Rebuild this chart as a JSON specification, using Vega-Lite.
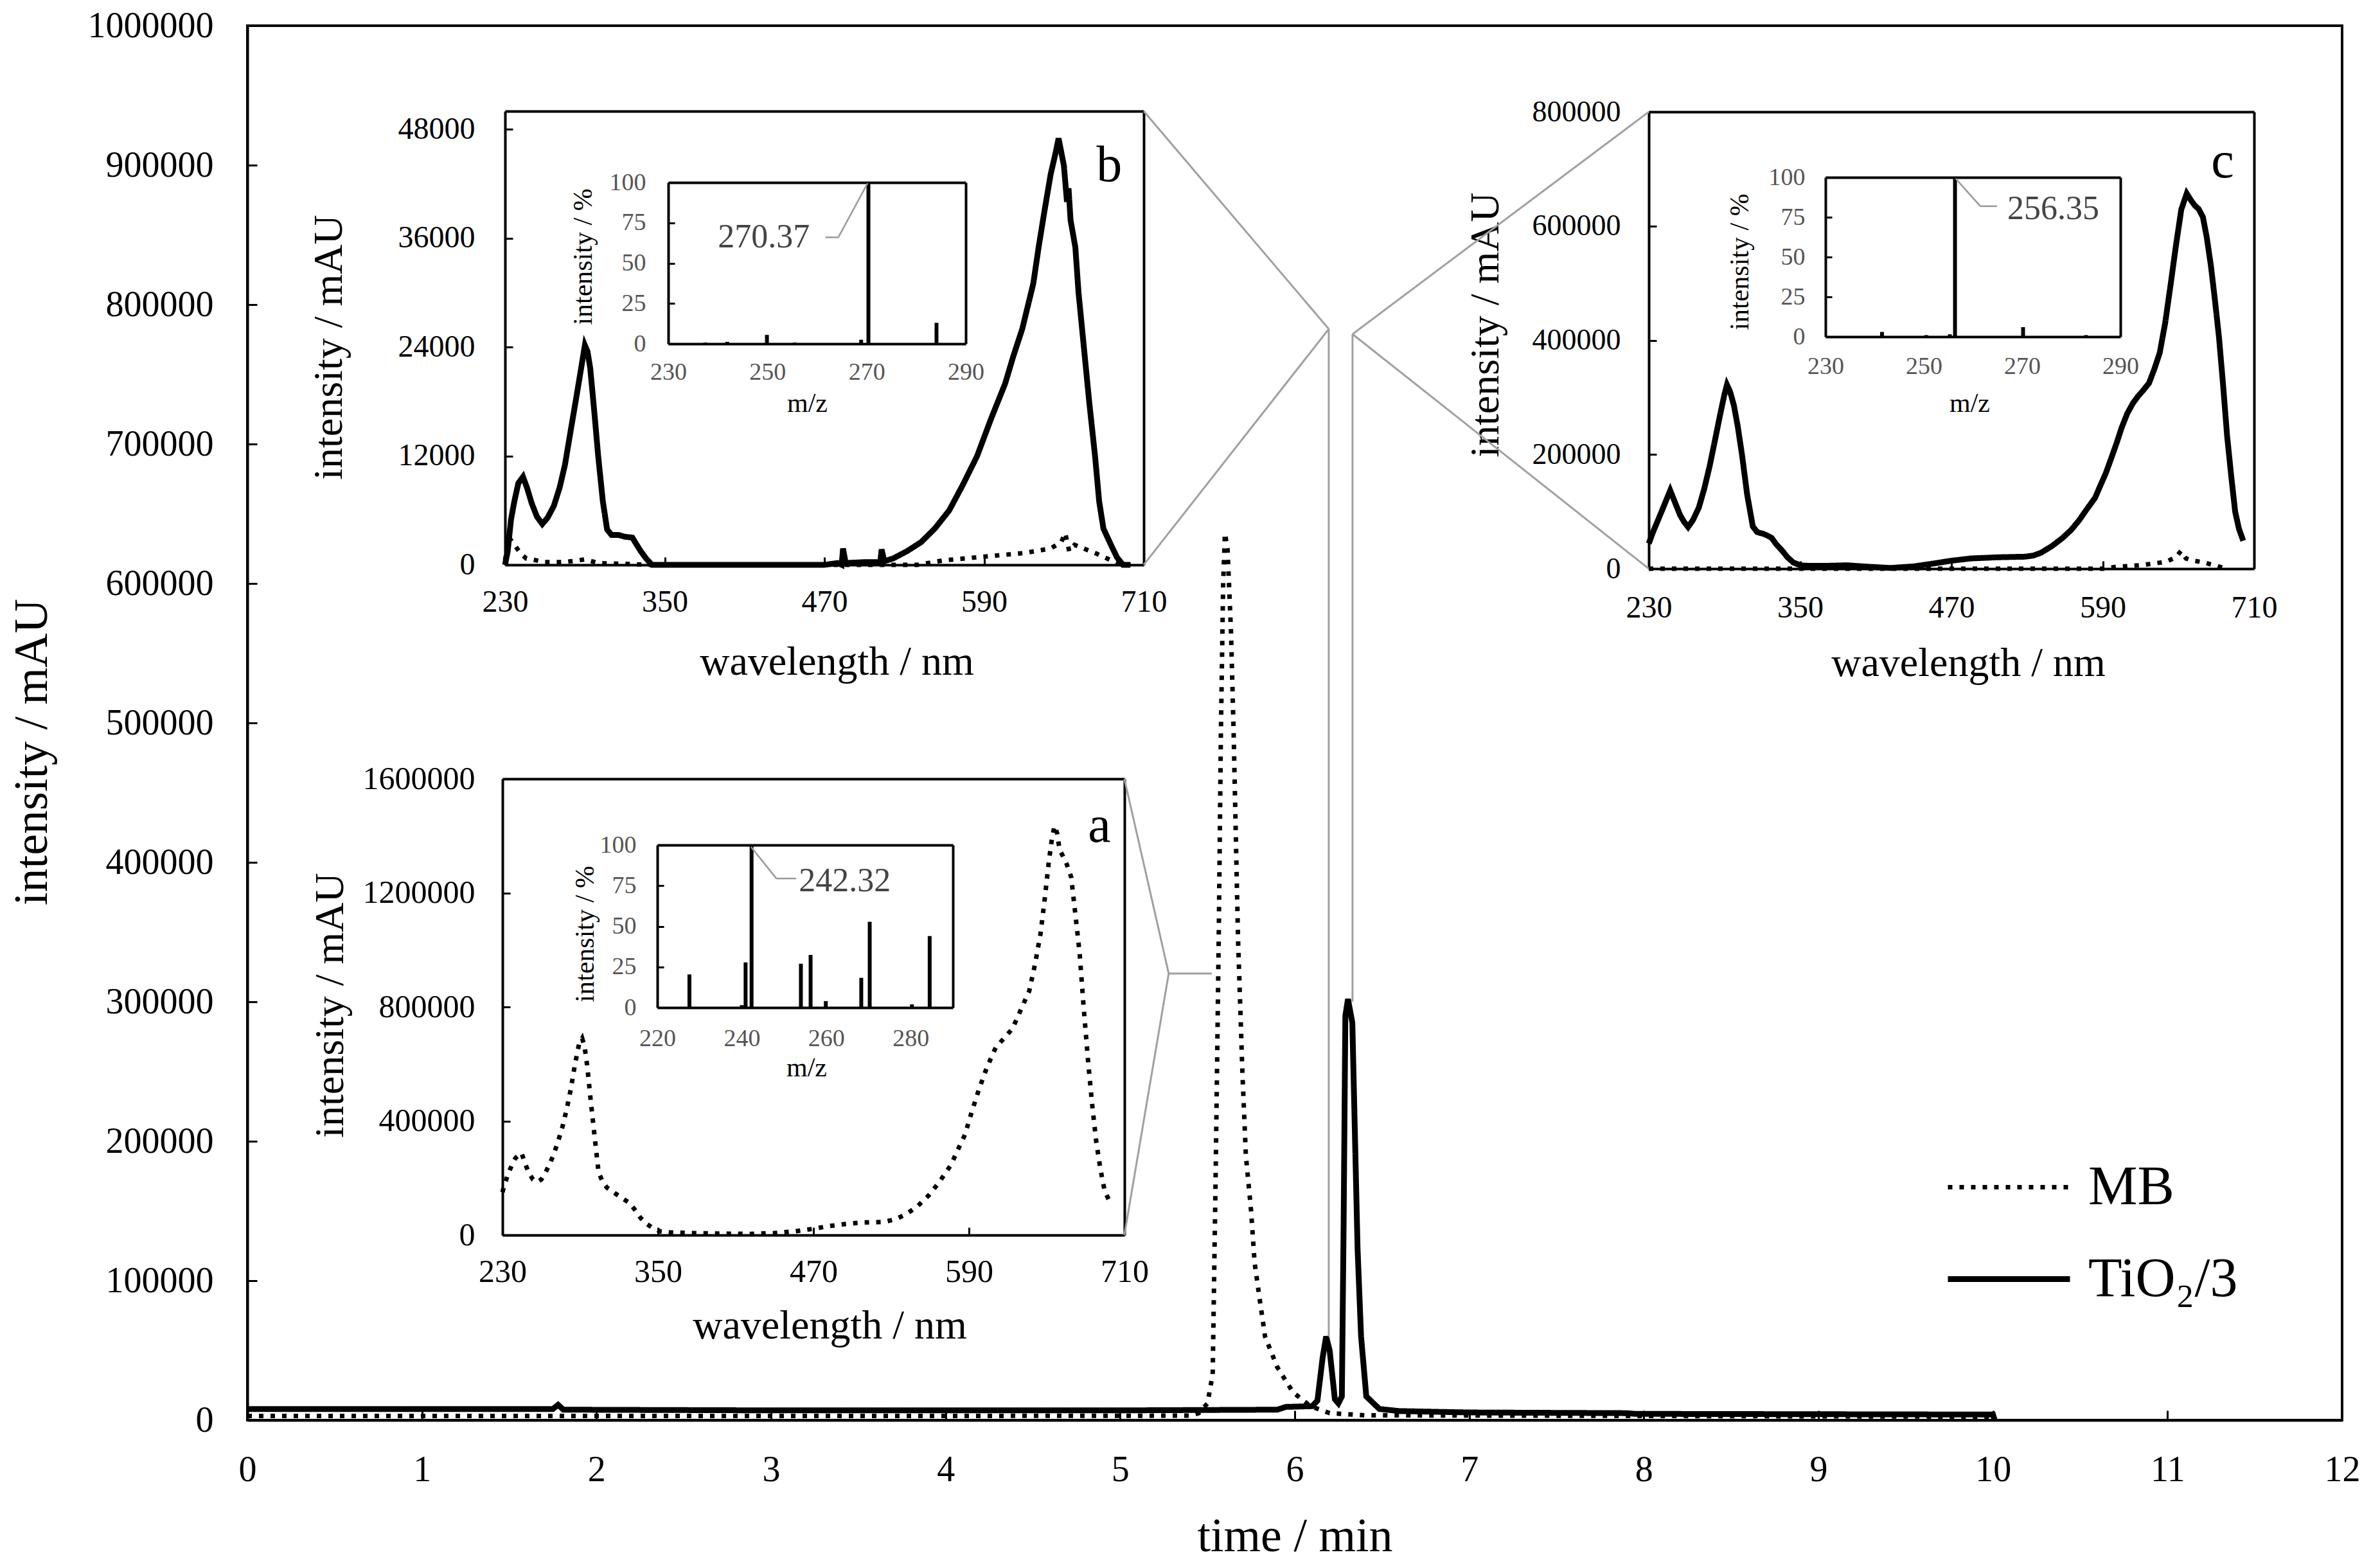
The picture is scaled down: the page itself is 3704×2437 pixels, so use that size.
{
  "$schema": "https://vega.github.io/schema/vega-lite/v6.json",
  "width": 3260,
  "height": 2170,
  "autosize": {"type": "none"},
  "padding": {"left": 385, "top": 40, "right": 59, "bottom": 227},
  "background": "white",
  "config": {
    "font": "Liberation Serif",
    "view": {"stroke": "black", "strokeWidth": 4},
    "axis": {
      "grid": false,
      "domainColor": "black",
      "domainWidth": 4,
      "tickColor": "black",
      "tickWidth": 3,
      "labelColor": "black",
      "titleColor": "black",
      "titleFontWeight": "normal",
      "labelFont": "Liberation Serif",
      "titleFont": "Liberation Serif",
      "labelOverlap": false,
      "labelFlush": false,
      "labelBound": false,
      "labelLimit": 0,
      "format": "d"
    },
    "text": {"font": "Liberation Serif"}
  },
  "datasets": {
    "chrom": [
      {"t": 0, "I": 3000, "series": "MB"},
      {"t": 2, "I": 3000, "series": "MB"},
      {"t": 4, "I": 3000, "series": "MB"},
      {"t": 5.4, "I": 3200, "series": "MB"},
      {"t": 5.45, "I": 5000, "series": "MB"},
      {"t": 5.5, "I": 12000, "series": "MB"},
      {"t": 5.53, "I": 33000, "series": "MB"},
      {"t": 5.547, "I": 176000, "series": "MB"},
      {"t": 5.565, "I": 350000, "series": "MB"},
      {"t": 5.577, "I": 493000, "series": "MB"},
      {"t": 5.59, "I": 600000, "series": "MB"},
      {"t": 5.6, "I": 636000, "series": "MB"},
      {"t": 5.615, "I": 625000, "series": "MB"},
      {"t": 5.635, "I": 565000, "series": "MB"},
      {"t": 5.65, "I": 493000, "series": "MB"},
      {"t": 5.675, "I": 346000, "series": "MB"},
      {"t": 5.7, "I": 250000, "series": "MB"},
      {"t": 5.72, "I": 190000, "series": "MB"},
      {"t": 5.75, "I": 150000, "series": "MB"},
      {"t": 5.77, "I": 113000, "series": "MB"},
      {"t": 5.8, "I": 86000, "series": "MB"},
      {"t": 5.83, "I": 60000, "series": "MB"},
      {"t": 5.9, "I": 38000, "series": "MB"},
      {"t": 5.99, "I": 20000, "series": "MB"},
      {"t": 6.09, "I": 10000, "series": "MB"},
      {"t": 6.2, "I": 5000, "series": "MB"},
      {"t": 6.4, "I": 3500, "series": "MB"},
      {"t": 8, "I": 3000, "series": "MB"},
      {"t": 10, "I": 2500, "series": "MB"},
      {"t": 0, "I": 8000, "series": "TiO₂/3"},
      {"t": 1.75, "I": 8000, "series": "TiO₂/3"},
      {"t": 1.78, "I": 11000, "series": "TiO₂/3"},
      {"t": 1.81, "I": 7500, "series": "TiO₂/3"},
      {"t": 3, "I": 7000, "series": "TiO₂/3"},
      {"t": 5, "I": 7000, "series": "TiO₂/3"},
      {"t": 5.9, "I": 7500, "series": "TiO₂/3"},
      {"t": 5.95, "I": 9500, "series": "TiO₂/3"},
      {"t": 6.1, "I": 10000, "series": "TiO₂/3"},
      {"t": 6.13, "I": 14000, "series": "TiO₂/3"},
      {"t": 6.16, "I": 45000, "series": "TiO₂/3"},
      {"t": 6.18, "I": 60000, "series": "TiO₂/3"},
      {"t": 6.2, "I": 50000, "series": "TiO₂/3"},
      {"t": 6.23, "I": 15000, "series": "TiO₂/3"},
      {"t": 6.25, "I": 12000, "series": "TiO₂/3"},
      {"t": 6.27, "I": 17000, "series": "TiO₂/3"},
      {"t": 6.28, "I": 139000, "series": "TiO₂/3"},
      {"t": 6.29, "I": 290000, "series": "TiO₂/3"},
      {"t": 6.305, "I": 302000, "series": "TiO₂/3"},
      {"t": 6.33, "I": 285000, "series": "TiO₂/3"},
      {"t": 6.36, "I": 123000, "series": "TiO₂/3"},
      {"t": 6.38, "I": 60000, "series": "TiO₂/3"},
      {"t": 6.41, "I": 17000, "series": "TiO₂/3"},
      {"t": 6.485, "I": 8000, "series": "TiO₂/3"},
      {"t": 6.6, "I": 6500, "series": "TiO₂/3"},
      {"t": 7, "I": 5500, "series": "TiO₂/3"},
      {"t": 7.9, "I": 5000, "series": "TiO₂/3"},
      {"t": 7.95, "I": 4500, "series": "TiO₂/3"},
      {"t": 10, "I": 4000, "series": "TiO₂/3"},
      {"t": 10.01, "I": 0, "series": "TiO₂/3"}
    ],
    "connectors": [
      {"t": 5.135, "I": 938700, "t2": 6.195, "I2": 782500},
      {"t": 5.135, "I": 613400, "t2": 6.195, "I2": 782500},
      {"t": 6.195, "I": 782500, "t2": 6.195, "I2": 60000},
      {"t": 8.028, "I": 938200, "t2": 6.331, "I2": 778800},
      {"t": 8.028, "I": 610600, "t2": 6.331, "I2": 778800},
      {"t": 6.331, "I": 778800, "t2": 6.331, "I2": 300000},
      {"t": 5.024, "I": 459900, "t2": 5.278, "I2": 320300},
      {"t": 5.024, "I": 132700, "t2": 5.278, "I2": 320300},
      {"t": 5.278, "I": 320300, "t2": 5.525, "I2": 320300}
    ],
    "spec_a": [
      {"wl": 230, "I": 150000, "series": "MB"},
      {"wl": 230.9, "I": 166000, "series": "MB"},
      {"wl": 234, "I": 210000, "series": "MB"},
      {"wl": 237.3, "I": 246000, "series": "MB"},
      {"wl": 240, "I": 270000, "series": "MB"},
      {"wl": 244.7, "I": 288000, "series": "MB"},
      {"wl": 247.5, "I": 250000, "series": "MB"},
      {"wl": 250.3, "I": 219000, "series": "MB"},
      {"wl": 253.5, "I": 195000, "series": "MB"},
      {"wl": 256.8, "I": 186000, "series": "MB"},
      {"wl": 260, "I": 195000, "series": "MB"},
      {"wl": 263.2, "I": 219000, "series": "MB"},
      {"wl": 266.5, "I": 250000, "series": "MB"},
      {"wl": 269.7, "I": 285000, "series": "MB"},
      {"wl": 273, "I": 330000, "series": "MB"},
      {"wl": 276.2, "I": 378000, "series": "MB"},
      {"wl": 279.5, "I": 440000, "series": "MB"},
      {"wl": 282.7, "I": 511000, "series": "MB"},
      {"wl": 286, "I": 600000, "series": "MB"},
      {"wl": 289.1, "I": 670000, "series": "MB"},
      {"wl": 291.5, "I": 690000, "series": "MB"},
      {"wl": 293.4, "I": 660000, "series": "MB"},
      {"wl": 295.5, "I": 590000, "series": "MB"},
      {"wl": 297.8, "I": 485000, "series": "MB"},
      {"wl": 301, "I": 350000, "series": "MB"},
      {"wl": 304.2, "I": 219000, "series": "MB"},
      {"wl": 307.5, "I": 185000, "series": "MB"},
      {"wl": 310.7, "I": 166000, "series": "MB"},
      {"wl": 315, "I": 152000, "series": "MB"},
      {"wl": 319.3, "I": 139000, "series": "MB"},
      {"wl": 323.5, "I": 126000, "series": "MB"},
      {"wl": 328, "I": 113000, "series": "MB"},
      {"wl": 332, "I": 90000, "series": "MB"},
      {"wl": 336.6, "I": 60000, "series": "MB"},
      {"wl": 341, "I": 40000, "series": "MB"},
      {"wl": 345.2, "I": 27000, "series": "MB"},
      {"wl": 351.7, "I": 13000, "series": "MB"},
      {"wl": 360, "I": 9000, "series": "MB"},
      {"wl": 377.6, "I": 7000, "series": "MB"},
      {"wl": 400, "I": 5000, "series": "MB"},
      {"wl": 420.8, "I": 4000, "series": "MB"},
      {"wl": 440, "I": 7000, "series": "MB"},
      {"wl": 455.3, "I": 13000, "series": "MB"},
      {"wl": 470, "I": 22000, "series": "MB"},
      {"wl": 481.2, "I": 31000, "series": "MB"},
      {"wl": 495, "I": 39000, "series": "MB"},
      {"wl": 507.1, "I": 44000, "series": "MB"},
      {"wl": 524.4, "I": 46000, "series": "MB"},
      {"wl": 533, "I": 55000, "series": "MB"},
      {"wl": 541.6, "I": 73000, "series": "MB"},
      {"wl": 550, "I": 100000, "series": "MB"},
      {"wl": 558.9, "I": 139000, "series": "MB"},
      {"wl": 567, "I": 185000, "series": "MB"},
      {"wl": 576.1, "I": 246000, "series": "MB"},
      {"wl": 581, "I": 295000, "series": "MB"},
      {"wl": 586.9, "I": 352000, "series": "MB"},
      {"wl": 592, "I": 430000, "series": "MB"},
      {"wl": 597.7, "I": 511000, "series": "MB"},
      {"wl": 604, "I": 590000, "series": "MB"},
      {"wl": 610.6, "I": 657000, "series": "MB"},
      {"wl": 617, "I": 690000, "series": "MB"},
      {"wl": 623.6, "I": 724000, "series": "MB"},
      {"wl": 630, "I": 790000, "series": "MB"},
      {"wl": 636.5, "I": 856000, "series": "MB"},
      {"wl": 641, "I": 950000, "series": "MB"},
      {"wl": 645.2, "I": 1056000, "series": "MB"},
      {"wl": 648.5, "I": 1180000, "series": "MB"},
      {"wl": 651.6, "I": 1308000, "series": "MB"},
      {"wl": 654, "I": 1390000, "series": "MB"},
      {"wl": 656, "I": 1435000, "series": "MB"},
      {"wl": 658, "I": 1410000, "series": "MB"},
      {"wl": 660, "I": 1350000, "series": "MB"},
      {"wl": 662.4, "I": 1330000, "series": "MB"},
      {"wl": 665.5, "I": 1300000, "series": "MB"},
      {"wl": 668.9, "I": 1255000, "series": "MB"},
      {"wl": 672, "I": 1130000, "series": "MB"},
      {"wl": 675.4, "I": 989000, "series": "MB"},
      {"wl": 678.5, "I": 800000, "series": "MB"},
      {"wl": 681.8, "I": 617000, "series": "MB"},
      {"wl": 685, "I": 460000, "series": "MB"},
      {"wl": 688.3, "I": 325000, "series": "MB"},
      {"wl": 691.5, "I": 230000, "series": "MB"},
      {"wl": 694.8, "I": 153000, "series": "MB"},
      {"wl": 699.1, "I": 113000, "series": "MB"}
    ],
    "spec_b": [
      {"wl": 230, "I": 0, "series": "TiO₂/3"},
      {"wl": 232, "I": 1500, "series": "TiO₂/3"},
      {"wl": 234.5, "I": 5000, "series": "TiO₂/3"},
      {"wl": 237, "I": 7000, "series": "TiO₂/3"},
      {"wl": 240, "I": 9000, "series": "TiO₂/3"},
      {"wl": 243.5, "I": 9700, "series": "TiO₂/3"},
      {"wl": 246.5, "I": 8500, "series": "TiO₂/3"},
      {"wl": 250, "I": 6800, "series": "TiO₂/3"},
      {"wl": 254, "I": 5300, "series": "TiO₂/3"},
      {"wl": 258, "I": 4500, "series": "TiO₂/3"},
      {"wl": 262, "I": 5200, "series": "TiO₂/3"},
      {"wl": 266.7, "I": 6500, "series": "TiO₂/3"},
      {"wl": 271, "I": 8500, "series": "TiO₂/3"},
      {"wl": 275, "I": 11000, "series": "TiO₂/3"},
      {"wl": 279, "I": 14500, "series": "TiO₂/3"},
      {"wl": 283.5, "I": 18400, "series": "TiO₂/3"},
      {"wl": 287, "I": 21500, "series": "TiO₂/3"},
      {"wl": 290, "I": 24200, "series": "TiO₂/3"},
      {"wl": 292, "I": 23500, "series": "TiO₂/3"},
      {"wl": 294, "I": 21700, "series": "TiO₂/3"},
      {"wl": 297, "I": 17000, "series": "TiO₂/3"},
      {"wl": 300, "I": 12000, "series": "TiO₂/3"},
      {"wl": 303.5, "I": 7000, "series": "TiO₂/3"},
      {"wl": 306.7, "I": 3900, "series": "TiO₂/3"},
      {"wl": 310, "I": 3300, "series": "TiO₂/3"},
      {"wl": 315, "I": 3300, "series": "TiO₂/3"},
      {"wl": 320, "I": 3100, "series": "TiO₂/3"},
      {"wl": 325.7, "I": 3000, "series": "TiO₂/3"},
      {"wl": 329, "I": 2200, "series": "TiO₂/3"},
      {"wl": 332, "I": 1500, "series": "TiO₂/3"},
      {"wl": 336, "I": 700, "series": "TiO₂/3"},
      {"wl": 340.4, "I": 0, "series": "TiO₂/3"},
      {"wl": 400, "I": 0, "series": "TiO₂/3"},
      {"wl": 470, "I": 0, "series": "TiO₂/3"},
      {"wl": 480, "I": 200, "series": "TiO₂/3"},
      {"wl": 483, "I": 0, "series": "TiO₂/3"},
      {"wl": 484, "I": 1800, "series": "TiO₂/3"},
      {"wl": 486, "I": 200, "series": "TiO₂/3"},
      {"wl": 500, "I": 300, "series": "TiO₂/3"},
      {"wl": 512, "I": 300, "series": "TiO₂/3"},
      {"wl": 513, "I": 1700, "series": "TiO₂/3"},
      {"wl": 515, "I": 400, "series": "TiO₂/3"},
      {"wl": 521.6, "I": 700, "series": "TiO₂/3"},
      {"wl": 532, "I": 1500, "series": "TiO₂/3"},
      {"wl": 542.7, "I": 2500, "series": "TiO₂/3"},
      {"wl": 553, "I": 4000, "series": "TiO₂/3"},
      {"wl": 563.8, "I": 6000, "series": "TiO₂/3"},
      {"wl": 574, "I": 8800, "series": "TiO₂/3"},
      {"wl": 584.8, "I": 12000, "series": "TiO₂/3"},
      {"wl": 595, "I": 16000, "series": "TiO₂/3"},
      {"wl": 605.9, "I": 20000, "series": "TiO₂/3"},
      {"wl": 612, "I": 23000, "series": "TiO₂/3"},
      {"wl": 618.7, "I": 26000, "series": "TiO₂/3"},
      {"wl": 627, "I": 31000, "series": "TiO₂/3"},
      {"wl": 631, "I": 35000, "series": "TiO₂/3"},
      {"wl": 635.4, "I": 39000, "series": "TiO₂/3"},
      {"wl": 640, "I": 43000, "series": "TiO₂/3"},
      {"wl": 643.9, "I": 45500, "series": "TiO₂/3"},
      {"wl": 646, "I": 47000, "series": "TiO₂/3"},
      {"wl": 648, "I": 45500, "series": "TiO₂/3"},
      {"wl": 650, "I": 44000, "series": "TiO₂/3"},
      {"wl": 652.3, "I": 40000, "series": "TiO₂/3"},
      {"wl": 653.5, "I": 41500, "series": "TiO₂/3"},
      {"wl": 655, "I": 38000, "series": "TiO₂/3"},
      {"wl": 658.6, "I": 35000, "series": "TiO₂/3"},
      {"wl": 661, "I": 30000, "series": "TiO₂/3"},
      {"wl": 665, "I": 24000, "series": "TiO₂/3"},
      {"wl": 669, "I": 18000, "series": "TiO₂/3"},
      {"wl": 673.4, "I": 12000, "series": "TiO₂/3"},
      {"wl": 676.5, "I": 7000, "series": "TiO₂/3"},
      {"wl": 679.7, "I": 4000, "series": "TiO₂/3"},
      {"wl": 686, "I": 2000, "series": "TiO₂/3"},
      {"wl": 690, "I": 800, "series": "TiO₂/3"},
      {"wl": 694.4, "I": 0, "series": "TiO₂/3"},
      {"wl": 700, "I": 0, "series": "TiO₂/3"},
      {"wl": 230, "I": 500, "series": "MB"},
      {"wl": 233, "I": 3000, "series": "MB"},
      {"wl": 237, "I": 2200, "series": "MB"},
      {"wl": 242, "I": 1200, "series": "MB"},
      {"wl": 246, "I": 700, "series": "MB"},
      {"wl": 250, "I": 600, "series": "MB"},
      {"wl": 260, "I": 300, "series": "MB"},
      {"wl": 275, "I": 300, "series": "MB"},
      {"wl": 290, "I": 600, "series": "MB"},
      {"wl": 300, "I": 200, "series": "MB"},
      {"wl": 340, "I": 0, "series": "MB"},
      {"wl": 450, "I": 0, "series": "MB"},
      {"wl": 540, "I": 0, "series": "MB"},
      {"wl": 560, "I": 500, "series": "MB"},
      {"wl": 590, "I": 900, "series": "MB"},
      {"wl": 620, "I": 1300, "series": "MB"},
      {"wl": 640, "I": 1800, "series": "MB"},
      {"wl": 648, "I": 2500, "series": "MB"},
      {"wl": 651, "I": 3500, "series": "MB"},
      {"wl": 654, "I": 1500, "series": "MB"},
      {"wl": 658, "I": 2200, "series": "MB"},
      {"wl": 665, "I": 1800, "series": "MB"},
      {"wl": 675, "I": 1200, "series": "MB"},
      {"wl": 690, "I": 200, "series": "MB"},
      {"wl": 700, "I": 0, "series": "MB"}
    ],
    "spec_c": [
      {"wl": 230, "I": 44000, "series": "TiO₂/3"},
      {"wl": 233.5, "I": 65000, "series": "TiO₂/3"},
      {"wl": 237.7, "I": 87000, "series": "TiO₂/3"},
      {"wl": 242, "I": 110000, "series": "TiO₂/3"},
      {"wl": 247, "I": 137000, "series": "TiO₂/3"},
      {"wl": 251, "I": 115000, "series": "TiO₂/3"},
      {"wl": 254.8, "I": 94000, "series": "TiO₂/3"},
      {"wl": 258, "I": 82000, "series": "TiO₂/3"},
      {"wl": 261.2, "I": 73000, "series": "TiO₂/3"},
      {"wl": 265, "I": 85000, "series": "TiO₂/3"},
      {"wl": 269.7, "I": 107000, "series": "TiO₂/3"},
      {"wl": 274, "I": 140000, "series": "TiO₂/3"},
      {"wl": 278.3, "I": 180000, "series": "TiO₂/3"},
      {"wl": 282.5, "I": 225000, "series": "TiO₂/3"},
      {"wl": 286.8, "I": 272000, "series": "TiO₂/3"},
      {"wl": 290, "I": 305000, "series": "TiO₂/3"},
      {"wl": 292, "I": 322000, "series": "TiO₂/3"},
      {"wl": 294.5, "I": 310000, "series": "TiO₂/3"},
      {"wl": 297.5, "I": 286000, "series": "TiO₂/3"},
      {"wl": 300.5, "I": 250000, "series": "TiO₂/3"},
      {"wl": 303.9, "I": 200000, "series": "TiO₂/3"},
      {"wl": 308, "I": 130000, "series": "TiO₂/3"},
      {"wl": 312.5, "I": 74000, "series": "TiO₂/3"},
      {"wl": 316, "I": 64000, "series": "TiO₂/3"},
      {"wl": 321, "I": 61000, "series": "TiO₂/3"},
      {"wl": 324, "I": 58000, "series": "TiO₂/3"},
      {"wl": 327.4, "I": 54000, "series": "TiO₂/3"},
      {"wl": 331, "I": 43000, "series": "TiO₂/3"},
      {"wl": 336, "I": 31000, "series": "TiO₂/3"},
      {"wl": 340, "I": 20000, "series": "TiO₂/3"},
      {"wl": 344.5, "I": 11000, "series": "TiO₂/3"},
      {"wl": 350, "I": 6000, "series": "TiO₂/3"},
      {"wl": 357.4, "I": 5000, "series": "TiO₂/3"},
      {"wl": 370, "I": 5000, "series": "TiO₂/3"},
      {"wl": 387.3, "I": 6000, "series": "TiO₂/3"},
      {"wl": 400, "I": 4000, "series": "TiO₂/3"},
      {"wl": 421.5, "I": 1300, "series": "TiO₂/3"},
      {"wl": 440, "I": 4000, "series": "TiO₂/3"},
      {"wl": 455.6, "I": 9000, "series": "TiO₂/3"},
      {"wl": 470, "I": 14000, "series": "TiO₂/3"},
      {"wl": 485.5, "I": 18000, "series": "TiO₂/3"},
      {"wl": 507, "I": 20000, "series": "TiO₂/3"},
      {"wl": 528.3, "I": 21000, "series": "TiO₂/3"},
      {"wl": 535, "I": 23000, "series": "TiO₂/3"},
      {"wl": 541.1, "I": 28000, "series": "TiO₂/3"},
      {"wl": 550, "I": 40000, "series": "TiO₂/3"},
      {"wl": 558.2, "I": 54000, "series": "TiO₂/3"},
      {"wl": 565, "I": 68000, "series": "TiO₂/3"},
      {"wl": 571, "I": 84000, "series": "TiO₂/3"},
      {"wl": 577, "I": 103000, "series": "TiO₂/3"},
      {"wl": 583.9, "I": 124000, "series": "TiO₂/3"},
      {"wl": 588, "I": 145000, "series": "TiO₂/3"},
      {"wl": 592.4, "I": 167000, "series": "TiO₂/3"},
      {"wl": 597, "I": 195000, "series": "TiO₂/3"},
      {"wl": 601, "I": 220000, "series": "TiO₂/3"},
      {"wl": 605, "I": 247000, "series": "TiO₂/3"},
      {"wl": 609.5, "I": 272000, "series": "TiO₂/3"},
      {"wl": 614, "I": 290000, "series": "TiO₂/3"},
      {"wl": 618, "I": 302000, "series": "TiO₂/3"},
      {"wl": 622, "I": 312000, "series": "TiO₂/3"},
      {"wl": 626.7, "I": 325000, "series": "TiO₂/3"},
      {"wl": 631, "I": 350000, "series": "TiO₂/3"},
      {"wl": 635.2, "I": 378000, "series": "TiO₂/3"},
      {"wl": 639.5, "I": 430000, "series": "TiO₂/3"},
      {"wl": 643.8, "I": 497000, "series": "TiO₂/3"},
      {"wl": 648, "I": 565000, "series": "TiO₂/3"},
      {"wl": 652.3, "I": 629000, "series": "TiO₂/3"},
      {"wl": 656.6, "I": 657000, "series": "TiO₂/3"},
      {"wl": 660, "I": 645000, "series": "TiO₂/3"},
      {"wl": 663, "I": 636000, "series": "TiO₂/3"},
      {"wl": 666, "I": 630000, "series": "TiO₂/3"},
      {"wl": 669.4, "I": 616000, "series": "TiO₂/3"},
      {"wl": 672.5, "I": 580000, "series": "TiO₂/3"},
      {"wl": 675.8, "I": 530000, "series": "TiO₂/3"},
      {"wl": 679, "I": 470000, "series": "TiO₂/3"},
      {"wl": 682.2, "I": 405000, "series": "TiO₂/3"},
      {"wl": 685.5, "I": 320000, "series": "TiO₂/3"},
      {"wl": 688.6, "I": 233000, "series": "TiO₂/3"},
      {"wl": 692, "I": 160000, "series": "TiO₂/3"},
      {"wl": 695, "I": 100000, "series": "TiO₂/3"},
      {"wl": 698, "I": 70000, "series": "TiO₂/3"},
      {"wl": 701.4, "I": 49000, "series": "TiO₂/3"},
      {"wl": 230, "I": 0, "series": "MB"},
      {"wl": 590, "I": 0, "series": "MB"},
      {"wl": 600, "I": 3000, "series": "MB"},
      {"wl": 620, "I": 6000, "series": "MB"},
      {"wl": 640, "I": 12000, "series": "MB"},
      {"wl": 648, "I": 20000, "series": "MB"},
      {"wl": 652, "I": 31000, "series": "MB"},
      {"wl": 656, "I": 18000, "series": "MB"},
      {"wl": 660, "I": 15000, "series": "MB"},
      {"wl": 670, "I": 11000, "series": "MB"},
      {"wl": 680, "I": 5000, "series": "MB"},
      {"wl": 688, "I": 0, "series": "MB"}
    ],
    "ms_a": [
      {"mz": 227.6, "pct": 20.4},
      {"mz": 240, "pct": 1.5},
      {"mz": 240.9, "pct": 27.8},
      {"mz": 242.32, "pct": 100},
      {"mz": 254, "pct": 27},
      {"mz": 256.3, "pct": 32.4},
      {"mz": 259.9, "pct": 4},
      {"mz": 268.3, "pct": 18.3},
      {"mz": 270.3, "pct": 52.8},
      {"mz": 280.3, "pct": 2},
      {"mz": 284.5, "pct": 44}
    ],
    "ms_b": [
      {"mz": 237.5, "pct": 0.8},
      {"mz": 241.9, "pct": 1.2},
      {"mz": 249.9, "pct": 5.5},
      {"mz": 255.5, "pct": 0.8},
      {"mz": 268.9, "pct": 2.5},
      {"mz": 270.37, "pct": 100},
      {"mz": 284.1, "pct": 13}
    ],
    "ms_c": [
      {"mz": 241.5, "pct": 3},
      {"mz": 250.5, "pct": 1},
      {"mz": 255.3, "pct": 1.5},
      {"mz": 256.35, "pct": 100},
      {"mz": 270.2, "pct": 6},
      {"mz": 283, "pct": 1}
    ]
  },
  "resolve": {
    "scale": {"x": "independent", "y": "independent"},
    "axis": {"x": "independent", "y": "independent"}
  },
  "layer": [
    {
      "data": {"name": "chrom"},
      "mark": {"type": "line", "color": "black", "strokeCap": "butt"},
      "encoding": {
        "x": {
          "field": "t", "type": "quantitative",
          "scale": {"domain": [0, 12], "nice": false, "zero": false},
          "axis": {
            "orient": "bottom", "values": [0, 1, 2, 3, 4, 5, 6, 7, 8, 9, 10, 11, 12],
            "tickSize": -15, "labelFontSize": 56, "labelPadding": 109, "labelBaseline": "alphabetic",
            "title": "time / min", "titleFontSize": 74, "titleY": 203, "titleBaseline": "alphabetic"
          }
        },
        "y": {
          "field": "I", "type": "quantitative",
          "scale": {"domain": [0, 1000000], "nice": false, "zero": false},
          "axis": {
            "orient": "left",
            "values": [0, 100000, 200000, 300000, 400000, 500000, 600000, 700000, 800000, 900000, 1000000],
            "tickSize": -15, "labelFontSize": 56, "labelPadding": 68,
            "title": "intensity / mAU", "titleFontSize": 74, "titleX": -313, "titleY": 1130, "titleBaseline": "alphabetic"
          }
        },
        "strokeDash": {
          "field": "series", "type": "nominal",
          "scale": {"domain": ["MB", "TiO₂/3"], "range": [[7, 11], [1, 0]]},
          "legend": {
            "orient": "none", "legendX": 2642, "legendY": 1709, "title": null,
            "symbolType": "stroke", "symbolSize": 36100, "symbolStrokeWidth": 8, "symbolStrokeColor": "black",
            "labelFontSize": 86, "labelFont": "Liberation Serif", "labelColor": "black",
            "labelOffset": 24, "rowPadding": -32, "padding": 0, "labelLimit": 0
          }
        },
        "strokeWidth": {
          "field": "series", "type": "nominal",
          "scale": {"domain": ["MB", "TiO₂/3"], "range": [7, 9]},
          "legend": null
        }
      }
    },
    {
      "data": {"name": "connectors"},
      "mark": {"type": "rule", "color": "#a0a0a0", "strokeWidth": 3},
      "encoding": {
        "x": {"field": "t", "type": "quantitative", "scale": {"domain": [0, 12], "nice": false, "zero": false}, "axis": null},
        "y": {"field": "I", "type": "quantitative", "scale": {"domain": [0, 1000000], "nice": false, "zero": false}, "axis": null},
        "x2": {"field": "t2"},
        "y2": {"field": "I2"}
      }
    },
    {
      "data": {"name": "spec_a"},
      "mark": {"type": "line", "color": "black", "strokeCap": "butt"},
      "encoding": {
        "x": {
          "field": "wl", "type": "quantitative",
          "scale": {"domain": [230, 710], "range": [397, 1365], "nice": false, "zero": false},
          "axis": {
            "orient": "bottom", "offset": -288, "values": [230, 350, 470, 590, 710],
            "tickSize": -12, "labelFontSize": 50, "labelPadding": 84, "labelBaseline": "alphabetic",
            "title": "wavelength / nm", "titleFontSize": 64, "titleX": 906, "titleY": 160, "titleBaseline": "alphabetic"
          }
        },
        "y": {
          "field": "I", "type": "quantitative",
          "scale": {"domain": [0, 1600000], "range": [1882, 1172], "nice": false, "zero": false},
          "axis": {
            "orient": "left", "offset": -397, "values": [0, 400000, 800000, 1200000, 1600000],
            "tickSize": -12, "labelFontSize": 50, "labelPadding": 55,
            "title": "intensity / mAU", "titleFontSize": 64, "titleX": -249, "titleY": 1524, "titleBaseline": "alphabetic"
          }
        },
        "strokeDash": {"field": "series", "type": "nominal", "legend": null},
        "strokeWidth": {"field": "series", "type": "nominal", "legend": null}
      }
    },
    {
      "data": {"name": "spec_a"},
      "mark": {"type": "point", "opacity": 0},
      "encoding": {
        "x": {
          "field": "wl", "type": "quantitative",
          "scale": {"domain": [230, 710], "range": [397, 1365], "nice": false, "zero": false},
          "axis": {"orient": "top", "offset": -1172, "labels": false, "ticks": false, "title": null}
        },
        "y": {
          "field": "I", "type": "quantitative",
          "scale": {"domain": [0, 1600000], "range": [1882, 1172], "nice": false, "zero": false},
          "axis": {"orient": "right", "offset": -1895, "labels": false, "ticks": false, "title": null}
        }
      }
    },
    {
      "data": {"values": [{}]},
      "mark": {"type": "text", "fontSize": 80, "align": "center", "baseline": "alphabetic", "color": "black"},
      "encoding": {
        "x": {"datum": 690.6, "type": "quantitative", "scale": {"domain": [230, 710], "range": [397, 1365], "nice": false, "zero": false}, "axis": null},
        "y": {"datum": 1379000, "type": "quantitative", "scale": {"domain": [0, 1600000], "range": [1882, 1172], "nice": false, "zero": false}, "axis": null},
        "text": {"value": "a"}
      }
    },
    {
      "data": {"name": "spec_b"},
      "mark": {"type": "line", "color": "black", "strokeCap": "butt"},
      "encoding": {
        "x": {
          "field": "wl", "type": "quantitative",
          "scale": {"domain": [230, 710], "range": [401, 1395], "nice": false, "zero": false},
          "axis": {
            "orient": "bottom", "offset": -1331, "values": [230, 350, 470, 590, 710],
            "tickSize": -12, "labelFontSize": 48, "labelPadding": 84, "labelBaseline": "alphabetic",
            "title": "wavelength / nm", "titleFontSize": 64, "titleX": 917, "titleY": 170, "titleBaseline": "alphabetic"
          }
        },
        "y": {
          "field": "I", "type": "quantitative",
          "scale": {"domain": [0, 50000], "range": [839, 133], "nice": false, "zero": false},
          "axis": {
            "orient": "left", "offset": -401, "values": [0, 12000, 24000, 36000, 48000],
            "tickSize": -12, "labelFontSize": 48, "labelPadding": 59,
            "title": "intensity / mAU", "titleFontSize": 64, "titleX": -255, "titleY": 500, "titleBaseline": "alphabetic"
          }
        },
        "strokeDash": {"field": "series", "type": "nominal", "legend": null},
        "strokeWidth": {"field": "series", "type": "nominal", "legend": null}
      }
    },
    {
      "data": {"name": "spec_b"},
      "mark": {"type": "point", "opacity": 0},
      "encoding": {
        "x": {
          "field": "wl", "type": "quantitative",
          "scale": {"domain": [230, 710], "range": [401, 1395], "nice": false, "zero": false},
          "axis": {"orient": "top", "offset": -133, "labels": false, "ticks": false, "title": null}
        },
        "y": {
          "field": "I", "type": "quantitative",
          "scale": {"domain": [0, 50000], "range": [839, 133], "nice": false, "zero": false},
          "axis": {"orient": "right", "offset": -1865, "labels": false, "ticks": false, "title": null}
        }
      }
    },
    {
      "data": {"values": [{}]},
      "mark": {"type": "text", "fontSize": 80, "align": "center", "baseline": "alphabetic", "color": "black"},
      "encoding": {
        "x": {"datum": 684, "type": "quantitative", "scale": {"domain": [230, 710], "range": [401, 1395], "nice": false, "zero": false}, "axis": null},
        "y": {"datum": 42300, "type": "quantitative", "scale": {"domain": [0, 50000], "range": [839, 133], "nice": false, "zero": false}, "axis": null},
        "text": {"value": "b"}
      }
    },
    {
      "data": {"name": "spec_c"},
      "mark": {"type": "line", "color": "black", "strokeCap": "butt"},
      "encoding": {
        "x": {
          "field": "wl", "type": "quantitative",
          "scale": {"domain": [230, 710], "range": [2181, 3123], "nice": false, "zero": false},
          "axis": {
            "orient": "bottom", "offset": -1325, "values": [230, 350, 470, 590, 710],
            "tickSize": -12, "labelFontSize": 48, "labelPadding": 87, "labelBaseline": "alphabetic",
            "title": "wavelength / nm", "titleFontSize": 64, "titleX": 2678, "titleY": 166, "titleBaseline": "alphabetic"
          }
        },
        "y": {
          "field": "I", "type": "quantitative",
          "scale": {"domain": [0, 800000], "range": [845, 134], "nice": false, "zero": false},
          "axis": {
            "orient": "left", "offset": -2181, "values": [0, 200000, 400000, 600000, 800000],
            "tickSize": -12, "labelFontSize": 46, "labelPadding": 56,
            "title": "intensity / mAU", "titleFontSize": 64, "titleX": -235, "titleY": 465, "titleBaseline": "alphabetic"
          }
        },
        "strokeDash": {"field": "series", "type": "nominal", "legend": null},
        "strokeWidth": {"field": "series", "type": "nominal", "legend": null}
      }
    },
    {
      "data": {"name": "spec_c"},
      "mark": {"type": "point", "opacity": 0},
      "encoding": {
        "x": {
          "field": "wl", "type": "quantitative",
          "scale": {"domain": [230, 710], "range": [2181, 3123], "nice": false, "zero": false},
          "axis": {"orient": "top", "offset": -134, "labels": false, "ticks": false, "title": null}
        },
        "y": {
          "field": "I", "type": "quantitative",
          "scale": {"domain": [0, 800000], "range": [845, 134], "nice": false, "zero": false},
          "axis": {"orient": "right", "offset": -137, "labels": false, "ticks": false, "title": null}
        }
      }
    },
    {
      "data": {"values": [{}]},
      "mark": {"type": "text", "fontSize": 80, "align": "center", "baseline": "alphabetic", "color": "black"},
      "encoding": {
        "x": {"datum": 685, "type": "quantitative", "scale": {"domain": [230, 710], "range": [2181, 3123], "nice": false, "zero": false}, "axis": null},
        "y": {"datum": 685000, "type": "quantitative", "scale": {"domain": [0, 800000], "range": [845, 134], "nice": false, "zero": false}, "axis": null},
        "text": {"value": "c"}
      }
    },
    {
      "data": {"name": "ms_a"},
      "mark": {"type": "rule", "color": "black", "strokeWidth": 6},
      "encoding": {
        "x": {
          "field": "mz", "type": "quantitative",
          "scale": {"domain": [220, 290], "range": [638, 1098], "nice": false, "zero": false},
          "axis": {
            "orient": "bottom", "offset": -642, "values": [220, 240, 260, 280], "ticks": false,
            "labelFontSize": 38, "labelColor": "#555555", "labelPadding": 59, "labelBaseline": "alphabetic",
            "title": "m/z", "titleFontSize": 42, "titleX": 870, "titleY": 106, "titleBaseline": "alphabetic"
          }
        },
        "y": {
          "field": "pct", "type": "quantitative",
          "scale": {"domain": [0, 100], "range": [1528, 1275], "nice": false, "zero": false},
          "axis": {
            "orient": "left", "offset": -638, "values": [0, 25, 50, 75, 100],
            "tickSize": -10, "labelFontSize": 38, "labelColor": "#555555", "labelPadding": 43,
            "title": "intensity / %", "titleFontSize": 42, "titleX": -100, "titleY": 1413, "titleBaseline": "alphabetic"
          }
        },
        "y2": {"datum": 0}
      }
    },
    {
      "data": {"name": "ms_a"},
      "mark": {"type": "point", "opacity": 0},
      "encoding": {
        "x": {
          "field": "mz", "type": "quantitative",
          "scale": {"domain": [220, 290], "range": [638, 1098], "nice": false, "zero": false},
          "axis": {"orient": "top", "offset": -1275, "labels": false, "ticks": false, "title": null}
        },
        "y": {
          "field": "pct", "type": "quantitative",
          "scale": {"domain": [0, 100], "range": [1528, 1275], "nice": false, "zero": false},
          "axis": {"orient": "right", "offset": -2162, "labels": false, "ticks": false, "title": null}
        }
      }
    },
    {
      "data": {"values": [{}]},
      "mark": {"type": "rule", "color": "#999999", "strokeWidth": 2.5},
      "encoding": {
        "x": {"datum": 242.2, "type": "quantitative", "scale": {"domain": [220, 290], "range": [638, 1098], "nice": false, "zero": false}, "axis": null},
        "y": {"datum": 98.8, "type": "quantitative", "scale": {"domain": [0, 100], "range": [1528, 1275], "nice": false, "zero": false}, "axis": null},
        "x2": {"datum": 248.2},
        "y2": {"datum": 79.4}
      }
    },
    {
      "data": {"values": [{}]},
      "mark": {"type": "rule", "color": "#999999", "strokeWidth": 2.5},
      "encoding": {
        "x": {"datum": 248.2, "type": "quantitative", "scale": {"domain": [220, 290], "range": [638, 1098], "nice": false, "zero": false}, "axis": null},
        "y": {"datum": 79.4, "type": "quantitative", "scale": {"domain": [0, 100], "range": [1528, 1275], "nice": false, "zero": false}, "axis": null},
        "x2": {"datum": 252.9},
        "y2": {"datum": 79.4}
      }
    },
    {
      "data": {"values": [{}]},
      "mark": {"type": "text", "fontSize": 52, "align": "left", "baseline": "alphabetic", "color": "#444444"},
      "encoding": {
        "x": {"datum": 253.5, "type": "quantitative", "scale": {"domain": [220, 290], "range": [638, 1098], "nice": false, "zero": false}, "axis": null},
        "y": {"datum": 71.5, "type": "quantitative", "scale": {"domain": [0, 100], "range": [1528, 1275], "nice": false, "zero": false}, "axis": null},
        "text": {"value": "242.32"}
      }
    },
    {
      "data": {"name": "ms_b"},
      "mark": {"type": "rule", "color": "black", "strokeWidth": 6},
      "encoding": {
        "x": {
          "field": "mz", "type": "quantitative",
          "scale": {"domain": [230, 290], "range": [655, 1118], "nice": false, "zero": false},
          "axis": {
            "orient": "bottom", "offset": -1675, "values": [230, 250, 270, 290], "ticks": false,
            "labelFontSize": 38, "labelColor": "#555555", "labelPadding": 55, "labelBaseline": "alphabetic",
            "title": "m/z", "titleFontSize": 42, "titleX": 871, "titleY": 105, "titleBaseline": "alphabetic"
          }
        },
        "y": {
          "field": "pct", "type": "quantitative",
          "scale": {"domain": [0, 100], "range": [495, 244], "nice": false, "zero": false},
          "axis": {
            "orient": "left", "offset": -655, "values": [0, 25, 50, 75, 100],
            "tickSize": -10, "labelFontSize": 38, "labelColor": "#555555", "labelPadding": 45,
            "title": "intensity / %", "titleFontSize": 42, "titleX": -120, "titleY": 359, "titleBaseline": "alphabetic"
          }
        },
        "y2": {"datum": 0}
      }
    },
    {
      "data": {"name": "ms_b"},
      "mark": {"type": "point", "opacity": 0},
      "encoding": {
        "x": {
          "field": "mz", "type": "quantitative",
          "scale": {"domain": [230, 290], "range": [655, 1118], "nice": false, "zero": false},
          "axis": {"orient": "top", "offset": -244, "labels": false, "ticks": false, "title": null}
        },
        "y": {
          "field": "pct", "type": "quantitative",
          "scale": {"domain": [0, 100], "range": [495, 244], "nice": false, "zero": false},
          "axis": {"orient": "right", "offset": -2142, "labels": false, "ticks": false, "title": null}
        }
      }
    },
    {
      "data": {"values": [{}]},
      "mark": {"type": "rule", "color": "#999999", "strokeWidth": 2.5},
      "encoding": {
        "x": {"datum": 270.2, "type": "quantitative", "scale": {"domain": [230, 290], "range": [655, 1118], "nice": false, "zero": false}, "axis": null},
        "y": {"datum": 99.5, "type": "quantitative", "scale": {"domain": [0, 100], "range": [495, 244], "nice": false, "zero": false}, "axis": null},
        "x2": {"datum": 264.3},
        "y2": {"datum": 66}
      }
    },
    {
      "data": {"values": [{}]},
      "mark": {"type": "rule", "color": "#999999", "strokeWidth": 2.5},
      "encoding": {
        "x": {"datum": 264.3, "type": "quantitative", "scale": {"domain": [230, 290], "range": [655, 1118], "nice": false, "zero": false}, "axis": null},
        "y": {"datum": 66, "type": "quantitative", "scale": {"domain": [0, 100], "range": [495, 244], "nice": false, "zero": false}, "axis": null},
        "x2": {"datum": 261.7},
        "y2": {"datum": 66}
      }
    },
    {
      "data": {"values": [{}]},
      "mark": {"type": "text", "fontSize": 52, "align": "left", "baseline": "alphabetic", "color": "#444444"},
      "encoding": {
        "x": {"datum": 240, "type": "quantitative", "scale": {"domain": [230, 290], "range": [655, 1118], "nice": false, "zero": false}, "axis": null},
        "y": {"datum": 59.8, "type": "quantitative", "scale": {"domain": [0, 100], "range": [495, 244], "nice": false, "zero": false}, "axis": null},
        "text": {"value": "270.37"}
      }
    },
    {
      "data": {"name": "ms_c"},
      "mark": {"type": "rule", "color": "black", "strokeWidth": 6},
      "encoding": {
        "x": {
          "field": "mz", "type": "quantitative",
          "scale": {"domain": [230, 290], "range": [2456, 2915], "nice": false, "zero": false},
          "axis": {
            "orient": "bottom", "offset": -1686, "values": [230, 250, 270, 290], "ticks": false,
            "labelFontSize": 38, "labelColor": "#555555", "labelPadding": 57, "labelBaseline": "alphabetic",
            "title": "m/z", "titleFontSize": 42, "titleX": 2680, "titleY": 116, "titleBaseline": "alphabetic"
          }
        },
        "y": {
          "field": "pct", "type": "quantitative",
          "scale": {"domain": [0, 100], "range": [484, 236], "nice": false, "zero": false},
          "axis": {
            "orient": "left", "offset": -2456, "values": [0, 25, 50, 75, 100],
            "tickSize": -10, "labelFontSize": 38, "labelColor": "#555555", "labelPadding": 42,
            "title": "intensity / %", "titleFontSize": 42, "titleX": -121, "titleY": 367, "titleBaseline": "alphabetic"
          }
        },
        "y2": {"datum": 0}
      }
    },
    {
      "data": {"name": "ms_c"},
      "mark": {"type": "point", "opacity": 0},
      "encoding": {
        "x": {
          "field": "mz", "type": "quantitative",
          "scale": {"domain": [230, 290], "range": [2456, 2915], "nice": false, "zero": false},
          "axis": {"orient": "top", "offset": -236, "labels": false, "ticks": false, "title": null}
        },
        "y": {
          "field": "pct", "type": "quantitative",
          "scale": {"domain": [0, 100], "range": [484, 236], "nice": false, "zero": false},
          "axis": {"orient": "right", "offset": -345, "labels": false, "ticks": false, "title": null}
        }
      }
    },
    {
      "data": {"values": [{}]},
      "mark": {"type": "rule", "color": "#999999", "strokeWidth": 2.5},
      "encoding": {
        "x": {"datum": 256.5, "type": "quantitative", "scale": {"domain": [230, 290], "range": [2456, 2915], "nice": false, "zero": false}, "axis": null},
        "y": {"datum": 99.2, "type": "quantitative", "scale": {"domain": [0, 100], "range": [484, 236], "nice": false, "zero": false}, "axis": null},
        "x2": {"datum": 261.5},
        "y2": {"datum": 81.9}
      }
    },
    {
      "data": {"values": [{}]},
      "mark": {"type": "rule", "color": "#999999", "strokeWidth": 2.5},
      "encoding": {
        "x": {"datum": 261.5, "type": "quantitative", "scale": {"domain": [230, 290], "range": [2456, 2915], "nice": false, "zero": false}, "axis": null},
        "y": {"datum": 81.9, "type": "quantitative", "scale": {"domain": [0, 100], "range": [484, 236], "nice": false, "zero": false}, "axis": null},
        "x2": {"datum": 264.9},
        "y2": {"datum": 81.9}
      }
    },
    {
      "data": {"values": [{}]},
      "mark": {"type": "text", "fontSize": 52, "align": "left", "baseline": "alphabetic", "color": "#444444"},
      "encoding": {
        "x": {"datum": 267, "type": "quantitative", "scale": {"domain": [230, 290], "range": [2456, 2915], "nice": false, "zero": false}, "axis": null},
        "y": {"datum": 73.8, "type": "quantitative", "scale": {"domain": [0, 100], "range": [484, 236], "nice": false, "zero": false}, "axis": null},
        "text": {"value": "256.35"}
      }
    }
  ]
}
